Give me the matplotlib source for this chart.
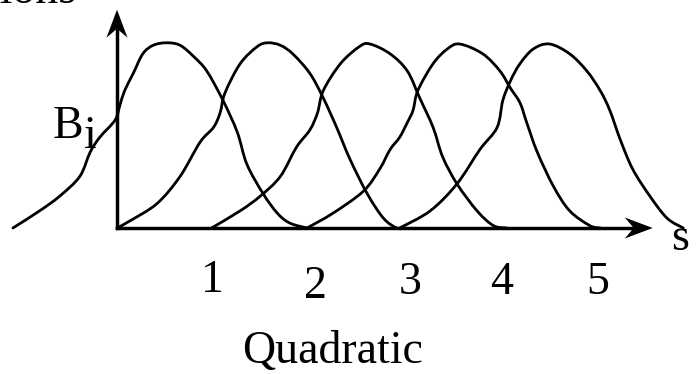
"""Quadratic B-spline basis sketch."""

import matplotlib

matplotlib.use("Agg")
import matplotlib.pyplot as plt
from matplotlib.patches import PathPatch, Polygon
from matplotlib.path import Path

plt.rcParams["font.family"] = ["Liberation Serif", "DejaVu Serif"]

# hand-drawn basis functions, (s, B)
b1_s = [-1.09, -0.81, -0.60, -0.39, -0.28, -0.18, -0.02, 0.03, 0.08, 0.17, 0.27,
        0.38, 0.52, 0.66, 0.80, 0.94, 1.11, 1.26, 1.36, 1.53, 1.68, 1.81, 1.99]
b1_v = [0.00, 0.07, 0.13, 0.21, 0.31, 0.37, 0.44, 0.50, 0.56, 0.63, 0.71,
        0.745, 0.755, 0.745, 0.70, 0.64, 0.52, 0.39, 0.26, 0.14, 0.06, 0.02, 0.00]

b2_s = [0.00, 0.14, 0.42, 0.66, 0.87, 1.01, 1.08, 1.13, 1.29, 1.47, 1.58, 1.71,
        1.84, 2.02, 2.16, 2.30, 2.44, 2.62, 2.79, 2.93, 3.02]
b2_v = [0.00, 0.03, 0.10, 0.21, 0.35, 0.41, 0.47, 0.55, 0.67, 0.74, 0.755, 0.745,
        0.71, 0.63, 0.53, 0.41, 0.28, 0.14, 0.04, 0.00, 0.00]

b3_s = [0.99, 1.29, 1.50, 1.71, 1.88, 2.02, 2.10, 2.16, 2.34, 2.54, 2.65, 2.86,
        3.04, 3.17, 3.31, 3.41, 3.56, 3.77, 3.94, 4.08]
b3_v = [0.00, 0.07, 0.13, 0.21, 0.33, 0.40, 0.47, 0.56, 0.67, 0.74, 0.75, 0.71,
        0.64, 0.53, 0.41, 0.29, 0.18, 0.07, 0.01, 0.00]

b4_s = [1.99, 2.26, 2.58, 2.75, 2.86, 2.96, 3.04, 3.10, 3.15, 3.31, 3.46, 3.59,
        3.83, 4.01, 4.12, 4.22, 4.29, 4.40, 4.57, 4.74, 4.95, 5.06]
b4_v = [0.00, 0.06, 0.15, 0.24, 0.32, 0.37, 0.43, 0.48, 0.56, 0.67, 0.73, 0.75,
        0.71, 0.64, 0.57, 0.51, 0.43, 0.31, 0.17, 0.07, 0.01, 0.00]

b5_s = [2.96, 3.28, 3.56, 3.80, 3.98, 4.04, 4.12, 4.22, 4.36, 4.53, 4.74, 4.92,
        5.06, 5.16, 5.27, 5.40, 5.58, 5.76, 5.93]
b5_v = [0.00, 0.07, 0.18, 0.32, 0.41, 0.52, 0.60, 0.67, 0.73, 0.75, 0.71, 0.64,
        0.56, 0.48, 0.36, 0.24, 0.13, 0.04, 0.00]

curves = [(b1_s, b1_v), (b2_s, b2_v), (b3_s, b3_v), (b4_s, b4_v), (b5_s, b5_v)]

knot_labels = ["1", "2", "3", "4", "5"]
label_s = [1.00, 2.08, 3.07, 4.03, 5.03]
label_y = [-0.26, -0.285, -0.27, -0.27, -0.27]

s_axis_end = 5.61
b_axis_end = 0.89

# pixel -> data scale (axes fill the whole figure)
XPX = 95.5
YPX = 245.3


def smooth_path(xs, ys):
    """Bezier path through the traced points (Catmull-Rom tangents)."""
    pts = list(zip(xs, ys))
    verts = [pts[0]]
    codes = [Path.MOVETO]
    n = len(pts)
    for i in range(n - 1):
        p0 = pts[max(i - 1, 0)]
        p1 = pts[i]
        p2 = pts[i + 1]
        p3 = pts[min(i + 2, n - 1)]
        c1 = (p1[0] + (p2[0] - p0[0]) / 6, p1[1] + (p2[1] - p0[1]) / 6)
        c2 = (p2[0] - (p3[0] - p1[0]) / 6, p2[1] - (p3[1] - p1[1]) / 6)
        verts += [c1, c2, p2]
        codes += [Path.CURVE4] * 3
    return Path(verts, codes)


def arrow_head(ax, tip, direction):
    """Concave filled arrow head, sized in pixels."""
    length, half, notch = 28, 10.5, 19
    tx, ty = tip
    if direction == "x":
        pts = [(0, 0), (-length, half), (-notch, 0), (-length, -half)]
    else:
        pts = [(0, 0), (half, -length), (0, -notch), (-half, -length)]
    pts = [(tx + a / XPX, ty + b / YPX) for a, b in pts]
    ax.add_patch(Polygon(pts, closed=True, color="black", lw=0, zorder=4))


fig = plt.figure(figsize=(6.98, 3.74), dpi=100)
ax = fig.add_axes([0, 0, 1, 1])
ax.set_xlim(-117 / XPX, 581 / XPX)
ax.set_ylim(-146 / YPX, 228 / YPX)
ax.axis("off")

for s, v in curves:
    ax.add_patch(PathPatch(smooth_path(s, v), fill=False, edgecolor="black",
                           lw=2.0, capstyle="round", joinstyle="round", zorder=2))

ax.plot([0, s_axis_end - 20 / XPX], [0, 0], color="black", lw=2.5, zorder=3)
ax.plot([0, 0], [0, b_axis_end - 20 / YPX], color="black", lw=2.5, zorder=3)
arrow_head(ax, (s_axis_end, 0), "x")
arrow_head(ax, (0, b_axis_end), "y")

fs = 33
for lab, x, y in zip(knot_labels, label_s, label_y):
    ax.text(x, y, lab, fontsize=fs, ha="center", va="baseline")

ax.text(5.895, -0.09, "s", fontsize=fs, ha="center", va="baseline")
ax.text(-0.67, 0.367, "B", fontsize=fs, ha="left", va="baseline")
ax.text(-0.35, 0.326, "i", fontsize=fs, ha="left", va="baseline")
ax.text(2.26, -0.55, "Quadratic", fontsize=fs, ha="center", va="baseline")
ax.text(-0.42, 0.917, "Functions", fontsize=fs, ha="right", va="baseline")

fig.savefig("out.png", dpi=100)
